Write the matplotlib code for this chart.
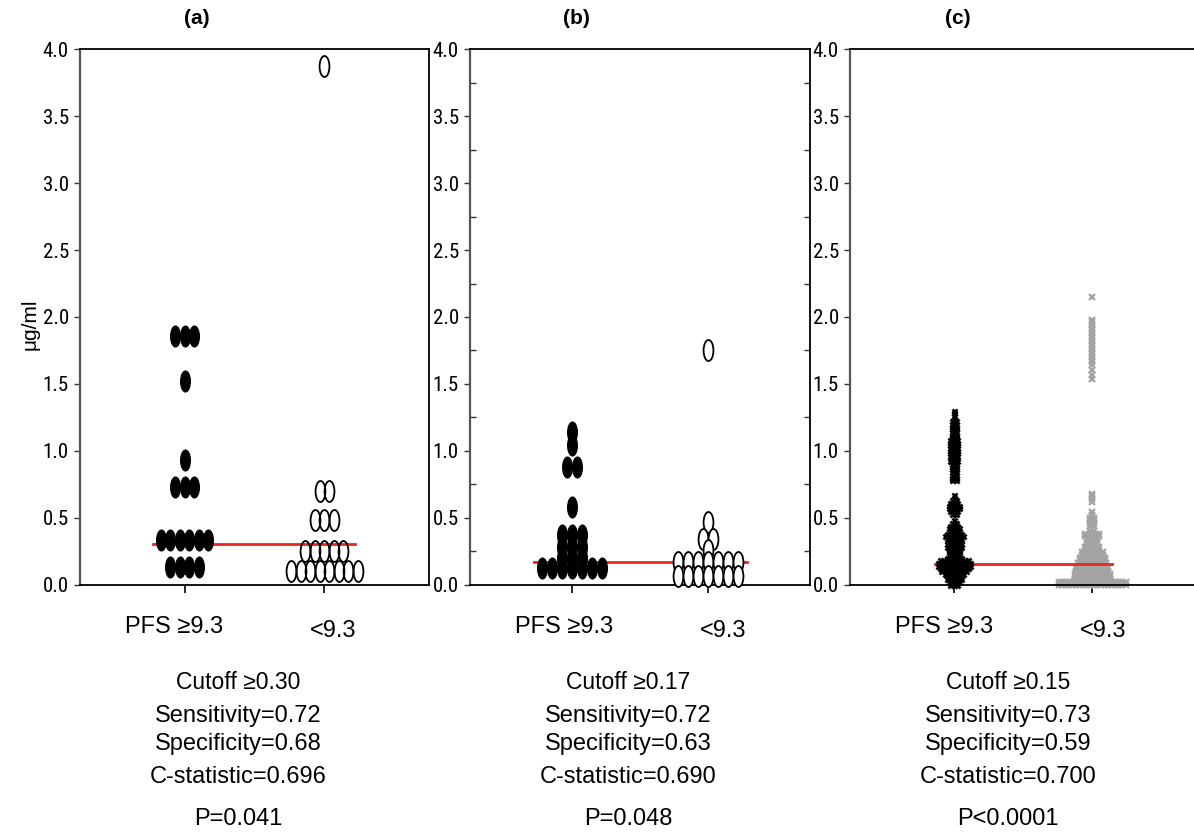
import numpy as np
import matplotlib
matplotlib.use("Agg")
import matplotlib.pyplot as plt
from matplotlib import font_manager as fm
from matplotlib.path import Path
from matplotlib.transforms import Affine2D
from matplotlib.ticker import FixedLocator

plt.rcParams['font.family'] = ['Liberation Sans', 'DejaVu Sans']

# pick a narrow font for the tick labels if one is installed
_names = {f.name for f in fm.fontManager.ttflist}
_cond = {f.name for f in fm.fontManager.ttflist
         if str(f.stretch) in ('condensed', 'semi-condensed', 'extra-condensed', '75', '62.5', '87.5')}
NARROW_PROPS = dict(fontfamily=['Liberation Sans', 'DejaVu Sans'], fontsize=13)
for cand in ['Liberation Sans Narrow', 'Roboto Condensed', 'Open Sans Condensed',
             'Arial Narrow', 'Noto Sans Condensed']:
    if cand in _names:
        NARROW_PROPS = dict(fontfamily=[cand, 'DejaVu Sans'], fontsize=15)
        break
else:
    for cand in ['DejaVu Sans', 'Noto Sans', 'Open Sans', 'Roboto', 'Inter']:
        if cand in _cond:
            NARROW_PROPS = dict(fontfamily=[cand, 'DejaVu Sans'], fontsize=15,
                                fontstretch='condensed')
            break

# ---------------- data ----------------
group_labels = ["PFS \u22659.3", "<9.3"]
panel_titles = ["(a)", "(b)", "(c)"]
y_ticks = [0.0, 0.5, 1.0, 1.5, 2.0, 2.5, 3.0, 3.5, 4.0]
y_label = "\u03bcg/ml"

# panel (a): rows of equal values -> counts
a_hi_vals = [1.86, 1.52, 0.93, 0.73, 0.33, 0.13]
a_hi_counts = [3, 1, 1, 3, 6, 4]
a_lo_vals = [3.88, 0.70, 0.48, 0.25, 0.10]
a_lo_counts = [1, 2, 3, 5, 8]
a_cutoff = 0.30

# panel (b)
b_hi_vals = [1.14, 1.04, 0.88, 0.58, 0.37, 0.28, 0.20, 0.12]
b_hi_counts = [1, 1, 2, 1, 3, 3, 3, 7]
b_lo_vals = [1.75, 0.47, 0.34, 0.26, 0.17, 0.06]
b_lo_counts = [1, 1, 2, 1, 7, 7]
b_cutoff = 0.17

# panel (c)
c_hi_vals = [1.30, 1.28, 1.26, 1.24, 1.22, 1.20, 1.18, 1.16, 1.14, 1.12, 1.10,
             1.08, 1.06, 1.04, 1.02, 1.00, 0.98, 0.96, 0.94, 0.92, 0.90, 0.88,
             0.86, 0.84, 0.82, 0.80, 0.78,
             0.67, 0.65, 0.63, 0.61, 0.59, 0.57, 0.55, 0.53,
             0.48, 0.46, 0.44, 0.42, 0.40, 0.38, 0.36, 0.34, 0.32, 0.30, 0.28,
             0.26, 0.24, 0.22, 0.20, 0.18, 0.16, 0.14, 0.12, 0.10, 0.08, 0.06,
             0.04, 0.02, 0.00]
c_hi_counts = [1, 1, 1, 1, 2, 2, 2, 2, 2, 2, 2,
               3, 3, 3, 3, 3, 3, 3, 2, 3, 2, 2,
               2, 2, 2, 2, 2,
               1, 1, 2, 3, 4, 4, 3, 2,
               1, 2, 3, 4, 4, 5, 6, 5, 4, 5, 5,
               4, 4, 4, 5, 9, 10, 10, 9, 8, 6, 5,
               5, 4, 3]
c_lo_vals = [2.15, 1.98, 1.96, 1.94, 1.92, 1.90, 1.88, 1.86, 1.84, 1.82, 1.80,
             1.78, 1.76, 1.74, 1.72, 1.70, 1.68, 1.66, 1.64, 1.60, 1.57, 1.54,
             0.68, 0.66, 0.64, 0.62,
             0.54, 0.52, 0.50, 0.48, 0.46, 0.44, 0.42, 0.40, 0.38, 0.36, 0.34,
             0.32, 0.30, 0.28, 0.26, 0.24, 0.22, 0.20, 0.18, 0.16, 0.14, 0.12,
             0.10, 0.08, 0.06, 0.04, 0.02, 0.00]
c_lo_counts = [1, 1, 1, 1, 1, 1, 1, 1, 1, 1, 1,
               1, 1, 1, 1, 1, 1, 1, 1, 1, 1, 1,
               1, 1, 1, 1,
               1, 1, 2, 2, 2, 2, 1, 2, 5, 5, 4,
               4, 4, 5, 5, 7, 7, 8, 8, 9, 9, 10,
               10, 11, 11, 11, 20, 20]
c_cutoff = 0.15

stats_a = ["Cutoff \u22650.30", "Sensitivity=0.72", "Specificity=0.68",
           "C-statistic=0.696", "P=0.041"]
stats_b = ["Cutoff \u22650.17", "Sensitivity=0.72", "Specificity=0.63",
           "C-statistic=0.690", "P=0.048"]
stats_c = ["Cutoff \u22650.15", "Sensitivity=0.73", "Specificity=0.59",
           "C-statistic=0.700", "P<0.0001"]

# ---------------- layout ----------------
W, H, DPI = 1194, 833, 100
fig = plt.figure(figsize=(W / DPI, H / DPI), dpi=DPI)

ax_left_px = [80, 470, 850]
ax_width_px = [349, 340, 346]
ax_top_px, ax_bot_px = 49.5, 584.5
group_pos = [0.3, 0.7]


def swarm(vals, counts, center, step):
    xs, ys = [], []
    for v, n in zip(vals, counts):
        offs = (np.arange(n) - (n - 1) / 2.0) * step
        xs.extend(center + offs)
        ys.extend([v] * n)
    return np.array(xs), np.array(ys)


ellipse = Path.unit_circle().transformed(Affine2D().scale(0.47, 1.0))
RED = '#e8281f'

axes = []
for i in range(3):
    l = ax_left_px[i] / W
    b = 1 - ax_bot_px / H
    w = ax_width_px[i] / W
    h = (ax_bot_px - ax_top_px) / H
    ax = fig.add_axes([l, b, w, h])
    ax.set_xlim(0, 1)
    ax.set_ylim(0, 4.0)
    for s in ['top', 'right', 'bottom']:
        ax.spines[s].set_color('black')
        ax.spines[s].set_linewidth(1.3)
    ax.spines['left'].set_color('#555555')
    ax.spines['left'].set_linewidth(1.6)
    ax.set_xticks(group_pos)
    ax.set_xticklabels(['', ''])
    ax.tick_params(axis='x', direction='out', length=6, width=1.2, color='black')
    ax.set_yticks(y_ticks)
    ax.set_yticklabels([f"{v:.1f}" for v in y_ticks], **NARROW_PROPS)
    ax.tick_params(axis='y', direction='out', length=4, width=1.0,
                   color='#333333', pad=4)
    axes.append(ax)

axes[2].spines['right'].set_visible(False)

# minor inward ticks on panel (b)
axes[1].yaxis.set_minor_locator(FixedLocator([0.25, 0.75, 1.25, 1.75, 2.25,
                                              2.75, 3.25, 3.75]))
axes[1].tick_params(axis='y', which='minor', direction='in', length=4,
                    width=1.0, left=True, right=True, color='#333333')

# ---- panel (a)
ax = axes[0]
step_a = 9.5 / ax_width_px[0]
x, y = swarm(a_lo_vals, a_lo_counts, group_pos[1], step_a)
ax.plot(x, y, ls='none', marker=ellipse, ms=21 * 72 / DPI, mfc='none',
        mec='black', mew=1.3, clip_on=False, zorder=3)
ax.plot([group_pos[0] - 0.09, group_pos[1] + 0.088], [a_cutoff, a_cutoff],
        color=RED, lw=2, zorder=2)
x, y = swarm(a_hi_vals, a_hi_counts, group_pos[0], step_a)
ax.plot(x, y, ls='none', marker=ellipse, ms=21 * 72 / DPI, mfc='black',
        mec='black', mew=0.8, clip_on=False, zorder=4)

# ---- panel (b)
ax = axes[1]
step_b = 10.0 / ax_width_px[1]
ax.plot([group_pos[0] - 0.112, group_pos[1] + 0.114], [b_cutoff, b_cutoff],
        color=RED, lw=2, zorder=2)
x, y = swarm(b_lo_vals, b_lo_counts, group_pos[1], step_b)
ax.plot(x, y, ls='none', marker=ellipse, ms=21 * 72 / DPI, mfc='white',
        mec='black', mew=1.3, clip_on=False, zorder=3)
x, y = swarm(b_hi_vals, b_hi_counts, group_pos[0], step_b)
ax.plot(x, y, ls='none', marker=ellipse, ms=21 * 72 / DPI, mfc='black',
        mec='black', mew=0.8, clip_on=False, zorder=4)

# ---- panel (c)
ax = axes[2]
step_c = 3.5 / 344
x, y = swarm(c_lo_vals, c_lo_counts, group_pos[1], step_c)
ax.plot(x, y, ls='none', marker='x', ms=5.5 * 72 / DPI, mec='#a3a3a3',
        mew=1.6, clip_on=False, zorder=2)
ax.plot([group_pos[0] - 0.053, group_pos[1] + 0.056], [c_cutoff, c_cutoff],
        color=RED, lw=2, zorder=3)
x, y = swarm(c_hi_vals, c_hi_counts, group_pos[0], step_c)
ax.plot(x, y, ls='none', marker='x', ms=5 * 72 / DPI, mec='black',
        mew=2.0, clip_on=False, zorder=4)

# ---------------- texts ----------------
fig.text(30 / W, 1 - 324 / H, y_label, rotation=90, ha='center', va='center',
         fontsize=15)

title_x_px = [197, 576, 958]
for i, t in enumerate(panel_titles):
    fig.text(title_x_px[i] / W, 1 - 19 / H, t, ha='center', va='center',
             fontsize=15, fontweight='bold')

stat_lines_y = [689, 722, 750, 783, 825]
stat_sizes = [16.5, 17, 17, 17, 17]
for i, stats in enumerate([stats_a, stats_b, stats_c]):
    left = ax_left_px[i]
    fig.text((left + 94.5) / W, 1 - 633 / H, group_labels[0], ha='center',
             va='baseline', fontsize=17)
    fig.text((left + 253) / W, 1 - 637 / H, group_labels[1], ha='center',
             va='baseline', fontsize=17)
    for s, yy, fs in zip(stats, stat_lines_y, stat_sizes):
        fig.text((left + 158) / W, 1 - yy / H, s, ha='center', va='baseline',
                 fontsize=fs)

fig.savefig("out.png", dpi=DPI)
